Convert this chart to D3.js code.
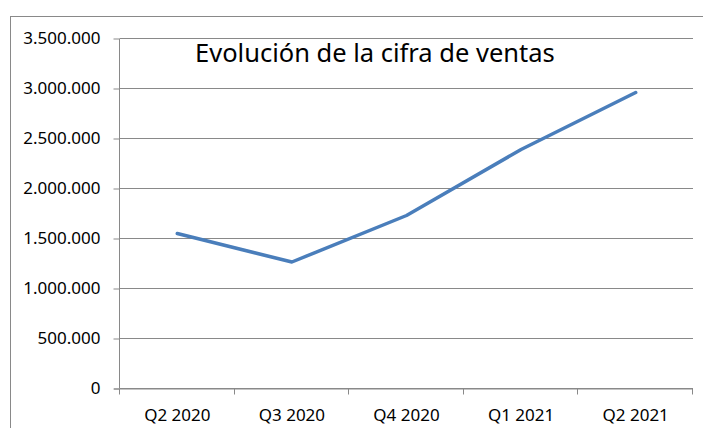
<!DOCTYPE html>
<html>
<head>
<meta charset="utf-8">
<script src="https://cdn.jsdelivr.net/npm/d3@7"></script>
<style>
  body { margin: 0; background: #fff; }
  svg { display: block; font-family: "Noto Sans", sans-serif; }
</style>
</head>
<body>
<svg id="chart" width="703" height="428"></svg>
<script>
// data
var quarters = ['Q2 2020', 'Q3 2020', 'Q4 2020', 'Q1 2021', 'Q2 2021'];
var ventas = [1550000, 1265000, 1730000, 2390000, 2960000];
var yTicks = [0, 500000, 1000000, 1500000, 2000000, 2500000, 3000000, 3500000];
var title = 'Evolución de la cifra de ventas';

var PLOT = { LEFT: 120, RIGHT: 693, TOP: 38.5, BOTTOM: 388.5 };
var GREY = '#898989';

var esFmt = d3.formatLocale({ decimal: ',', thousands: '.', grouping: [3], currency: ['', ' €'] }).format(',d');

var svg = d3.select('#chart');

// outer chart frame (cut off right and bottom)
svg.append('rect')
    .attr('x', 10.5)
    .attr('y', 16.5)
    .attr('width', 720)
    .attr('height', 440)
    .style('fill', 'none')
    .style('stroke', GREY);

var xScale = d3.scaleBand()
    .domain(quarters)
    .range([PLOT.LEFT, PLOT.RIGHT]);

var yScale = d3.scaleLinear()
    .domain([0, 3500000])
    .range([PLOT.BOTTOM, PLOT.TOP]);

// horizontal gridlines
svg.append('g')
    .selectAll('line')
    .data(yTicks)
    .enter()
    .append('line')
    .attr('x1', PLOT.LEFT)
    .attr('x2', PLOT.RIGHT)
    .attr('y1', function (d) { return yScale(d); })
    .attr('y2', function (d) { return yScale(d); })
    .style('stroke', GREY)
    .style('stroke-width', 1);

// y axis
var yAxis = d3.axisLeft(yScale)
    .tickValues(yTicks)
    .tickFormat(esFmt)
    .tickSize(6)
    .tickPadding(13);
var gy = svg.append('g')
    .attr('transform', 'translate(' + (PLOT.LEFT - 0.5) + ',0)')
    .call(yAxis);
gy.select('.domain').remove();
gy.append('line')
    .attr('y1', PLOT.TOP)
    .attr('y2', PLOT.BOTTOM)
    .style('stroke', GREY);
gy.selectAll('line').style('stroke', GREY);
gy.selectAll('text')
    .style('font-size', '17px')
    .style('fill', '#000')
    .style('font-family', '"Noto Sans", sans-serif');

// x axis: ticks sit on category boundaries
var bounds = quarters.map(function (q) { return xScale(q); }).concat([PLOT.RIGHT]);
var gx = svg.append('g');
gx.append('line')
    .attr('x1', PLOT.LEFT - 6)
    .attr('x2', PLOT.RIGHT)
    .attr('y1', PLOT.BOTTOM + 0.5)
    .attr('y2', PLOT.BOTTOM + 0.5)
    .style('stroke', GREY);
gx.selectAll('line.tk')
    .data(bounds)
    .enter()
    .append('line')
    .attr('class', 'tk')
    .attr('x1', function (d) { return Math.round(d) - 0.5; })
    .attr('x2', function (d) { return Math.round(d) - 0.5; })
    .attr('y1', PLOT.BOTTOM)
    .attr('y2', PLOT.BOTTOM + 6)
    .style('stroke', GREY);
gx.selectAll('text')
    .data(quarters)
    .enter()
    .append('text')
    .attr('x', function (d) { return xScale(d) + xScale.bandwidth() / 2; })
    .attr('y', 421)
    .attr('text-anchor', 'middle')
    .style('font-size', '17px')
    .text(function (d) { return d; });

// sales line
var line = d3.line()
    .x(function (d, i) { return xScale(quarters[i]) + xScale.bandwidth() / 2; })
    .y(function (d) { return yScale(d); });
svg.append('path')
    .datum(ventas)
    .attr('d', line)
    .style('fill', 'none')
    .style('stroke', '#4a7ebb')
    .style('stroke-width', 3.5)
    .style('stroke-linejoin', 'round')
    .style('stroke-linecap', 'round');

// title inside plot
svg.append('text')
    .attr('x', 195)
    .attr('y', 62)
    .style('font-size', '25.5px')
    .text(title);
</script>
</body>
</html>
